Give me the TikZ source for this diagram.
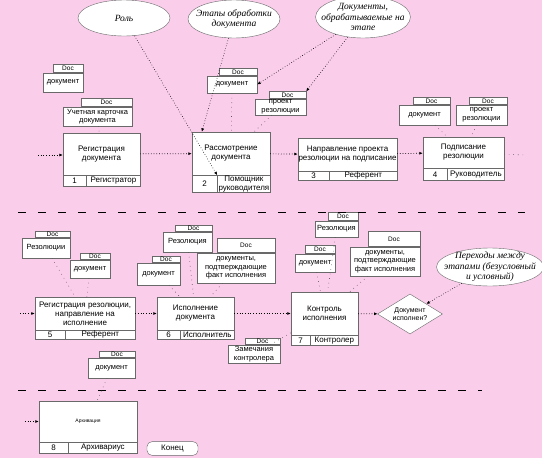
\documentclass[tikz,border=0pt]{standalone}
\usepackage{fontspec}
\setmainfont{Liberation Sans}
\newfontfamily\ellfont{Liberation Serif}
\usepackage{xcolor}
\usepackage{tikz}
\usetikzlibrary{positioning,shapes.geometric,arrows.meta,calc}
\definecolor{bgpink}{RGB}{250,205,235}
\definecolor{frame}{RGB}{105,105,105}

\begin{document}
\begin{tikzpicture}[
  x=1pt, y=-1pt, >={Latex[length=3.5pt,width=3pt]},
  font=\fontsize{7.5}{8.5}\selectfont,
  func/.style={rectangle, draw=frame, fill=white, align=center, inner sep=0pt, font=\fontsize{8}{9}\selectfont},
  cell/.style={rectangle, draw=frame, fill=white, anchor=north west, inner sep=0pt, align=center, font=\fontsize{8}{8.5}\selectfont},
  docbody/.style={rectangle, draw=frame, fill=white, align=center, inner sep=0pt},
  doctab/.style={rectangle, draw=frame, fill=white, anchor=south east, inner sep=0pt, font=\fontsize{6.5}{6.5}\selectfont},
  note/.style={ellipse, draw=frame, fill=white, align=center, inner sep=-8pt, font=\ellfont\itshape\fontsize{9.5}{10.5}\selectfont},
  decision/.style={diamond, draw=frame, fill=white, align=center, inner sep=-4pt, font=\fontsize{7}{8}\selectfont},
  term/.style={rectangle, rounded corners=5pt, draw=frame, fill=white, font=\fontsize{8}{9}\selectfont},
  flow/.style={->, dotted, line width=0.7pt},
  link/.style={loosely dotted, line width=0.6pt, draw=black!65},
  callout/.style={->, dotted, line width=0.6pt},
  sep/.style={dash pattern=on 8pt off 12pt, line width=0.7pt},
]
\fill[bgpink] (0,0) rectangle (542,458);
\useasboundingbox (0,0) rectangle (542,458);

\node[note, minimum width=92pt, minimum height=36pt] (e1) at (124,18) {Роль};
\node[note, minimum width=92pt, minimum height=38pt] (e2) at (234,19) {Этапы обработки\\документа};
\node[note, minimum width=94pt, minimum height=42pt] (e3) at (363,17) {Документы,\\обрабатываемые на\\этапе};
\node[note, minimum width=98pt, minimum height=38pt] (e4) at (490,267) {Переходы между\\этапами (безусловный\\и условный)};

\node[docbody, minimum width=40pt, minimum height=19pt] (d1) at (63,82.5) {документ};
\node[doctab, minimum width=30pt, minimum height=8pt] (d1t) at (d1.north east) {Doc};
\node[docbody, minimum width=69pt, minimum height=19pt] (d2) at (97.5,116.5) {Учетная карточка\\документа};
\node[doctab, minimum width=51pt, minimum height=8pt] (d2t) at (d2.north east) {Doc};
\node[docbody, minimum width=50pt, minimum height=17pt] (d3) at (232,84.5) {документ};
\node[doctab, minimum width=38pt, minimum height=7pt] (d3t) at (d3.north east) {Doc};
\node[docbody, minimum width=51pt, minimum height=16pt] (d4) at (280.5,107) {проект\\резолюции};
\node[doctab, minimum width=37pt, minimum height=7pt] (d4t) at (d4.north east) {Doc};
\node[docbody, minimum width=51pt, minimum height=20pt] (d5) at (424.5,115) {документ};
\node[doctab, minimum width=37pt, minimum height=7pt] (d5t) at (d5.north east) {Doc};
\node[docbody, minimum width=51pt, minimum height=20pt] (d6) at (481.5,115) {проект\\резолюции};
\node[doctab, minimum width=38pt, minimum height=7pt] (d6t) at (d6.north east) {Doc};

\node[func, minimum width=77pt, minimum height=42pt] (f1) at (101.5,154) {Регистрация\\документа};
\node[cell, minimum width=23pt, minimum height=11pt] (f1n) at (f1.south west) {1};
\node[cell, minimum width=54pt, minimum height=11pt] (f1r) at (f1n.north east) {Регистратор};
\node[func, minimum width=78pt, minimum height=43pt] (f2) at (231,153.5) {Рассмотрение\\документа};
\node[cell, minimum width=25pt, minimum height=17pt] (f2n) at (f2.south west) {2};
\node[cell, minimum width=53pt, minimum height=17pt] (f2r) at (f2n.north east) {Помощник\\руководителя};
\node[func, minimum width=99pt, minimum height=33pt] (f3) at (347.5,154.5) {Направление проекта\\резолюции на подписание};
\node[cell, minimum width=31pt, minimum height=9pt] (f3n) at (f3.south west) {3};
\node[cell, minimum width=68pt, minimum height=9pt] (f3r) at (f3n.north east) {Референт};
\node[func, minimum width=81pt, minimum height=31pt] (f4) at (463.5,152.5) {Подписание\\резолюции};
\node[cell, minimum width=24pt, minimum height=12pt] (f4n) at (f4.south west) {4};
\node[cell, minimum width=57pt, minimum height=12pt] (f4r) at (f4n.north east) {Руководитель};

\node[docbody, minimum width=48pt, minimum height=20pt] (d7) at (46,248) {Резолюции};
\node[doctab, minimum width=35pt, minimum height=6pt] (d7t) at (d7.north east) {Doc};
\node[docbody, minimum width=40pt, minimum height=18pt] (d8) at (90,269) {документ};
\node[doctab, minimum width=30pt, minimum height=6pt] (d8t) at (d8.north east) {Doc};
\node[docbody, minimum width=49pt, minimum height=20pt] (d9) at (187.5,242) {Резолюция};
\node[doctab, minimum width=37pt, minimum height=6pt] (d9t) at (d9.north east) {Doc};
\node[docbody, minimum width=43pt, minimum height=22pt] (d10) at (158.5,274) {документ};
\node[doctab, minimum width=28pt, minimum height=6pt] (d10t) at (d10.north east) {Doc};
\node[docbody, minimum width=78pt, minimum height=30pt] (d11) at (236,268) {документы,\\подтверждающие\\факт исполнения};
\node[doctab, minimum width=58pt, minimum height=14pt] (d11t) at (d11.north east) {Doc};
\node[docbody, minimum width=43pt, minimum height=16pt] (d12) at (336.5,229) {Резолюция};
\node[doctab, minimum width=30pt, minimum height=8pt] (d12t) at (d12.north east) {Doc};
\node[docbody, minimum width=40pt, minimum height=18pt] (d13) at (315,263) {документ};
\node[doctab, minimum width=30pt, minimum height=8pt] (d13t) at (d13.north east) {Doc};
\node[docbody, minimum width=70pt, minimum height=29pt] (d14) at (385,261.5) {документы,\\подтверждающие\\факт исполнения};
\node[doctab, minimum width=52pt, minimum height=15pt] (d14t) at (d14.north east) {Doc};
\node[docbody, minimum width=52pt, minimum height=18pt] (d15) at (254,354) {Замечания\\контролера};
\node[doctab, minimum width=35pt, minimum height=6pt] (d15t) at (d15.north east) {Doc};
\node[docbody, minimum width=47pt, minimum height=20pt] (d16) at (111.5,368) {документ};
\node[doctab, minimum width=36pt, minimum height=6pt] (d16t) at (d16.north east) {Doc};

\node[func, minimum width=100pt, minimum height=33pt] (f5) at (85,313.5) {Регистрация резолюции,\\направление на\\исполнение};
\node[cell, minimum width=30pt, minimum height=9pt] (f5n) at (f5.south west) {5};
\node[cell, minimum width=70pt, minimum height=9pt] (f5r) at (f5n.north east) {Референт};
\node[func, minimum width=77pt, minimum height=33pt] (f6) at (195.5,313.5) {Исполнение\\документа};
\node[cell, minimum width=23pt, minimum height=9pt] (f6n) at (f6.south west) {6};
\node[cell, minimum width=54pt, minimum height=9pt] (f6r) at (f6n.north east) {Исполнитель};
\node[func, minimum width=67pt, minimum height=43pt] (f7) at (324.5,313.5) {Контроль\\исполнения};
\node[cell, minimum width=19pt, minimum height=10pt] (f7n) at (f7.south west) {7};
\node[cell, minimum width=48pt, minimum height=10pt] (f7r) at (f7n.north east) {Контролер};
\node[decision, minimum width=65pt, minimum height=40pt] (dec) at (410,314) {Документ\\исполнен?};

\node[func, minimum width=98pt, minimum height=41pt, font=\fontsize{5}{6}\selectfont] (f8) at (88,421.5) {Архивация};
\node[cell, minimum width=29pt, minimum height=11pt] (f8n) at (f8.south west) {8};
\node[cell, minimum width=69pt, minimum height=11pt] (f8r) at (f8n.north east) {Архивариус};
\node[term, minimum width=51pt, minimum height=13pt] (end) at (172.5,448.5) {Конец};

\coordinate (in1) at (38,155);
\coordinate (out1) at (525,155);
\coordinate (in2) at (20,313.5);
\coordinate (in3) at (25,421.5);

\draw[sep] (18,212) -- (525,212);
\draw[sep] (18,390) -- (482,390);

\draw[flow] (in1) -- (in1 -| f1.west);
\draw[flow] (f1) -- (f2);
\draw[flow] (f2) -- (f3);
\draw[flow] (f3) -- (f4);
\draw[link] (f4) -- (out1);
\draw[flow] (in2) -- (f5);
\draw[flow] (f5) -- (f6);
\draw[flow] (f6) -- (f7);
\draw[flow] (f7) -- (dec);
\draw[flow] (in3) -- (f8);

\draw[callout] (e1) -- (f2r.north west);
\draw[callout] (e2) -- ([xshift=10pt]f2.north west);
\draw[callout] (e3) -- (d4t.north east);
\draw[callout] (e3) -- (d3.east);
\draw[callout] (e4) -- (dec.north east);

\draw[link] (d2) -- (f1);
\draw[link] (d3) -- (f2);
\draw[link] (d4) -- (f2);
\draw[link] (d5) -- (f4);
\draw[link] (d6) -- (f4);
\draw[link] (d7) -- (f5);
\draw[link] (d8) -- (f5);
\draw[link] (d9) -- (f6);
\draw[link] (d10) -- (f6);
\draw[link] (d11) -- (f6);
\draw[link] (d12) -- (f7);
\draw[link] (d13) -- (f7);
\draw[link] (d14) -- (f7);
\draw[link] (f7) -- (d15);
\draw[link] (d16) -- (f8);
\end{tikzpicture}
\end{document}
